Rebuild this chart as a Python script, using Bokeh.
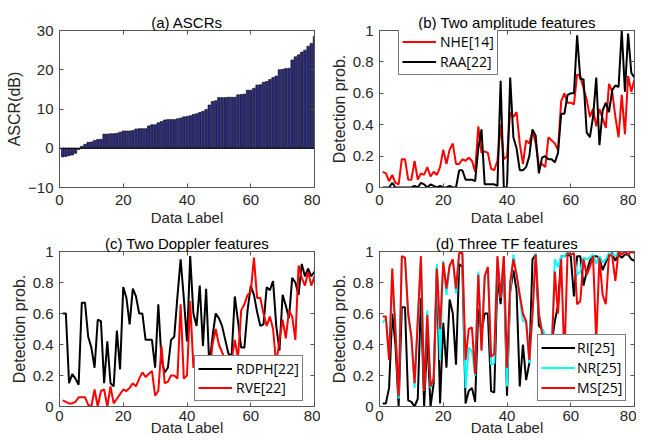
from bokeh.plotting import figure
from bokeh.layouts import column, row
from bokeh.models import LinearAxis, FixedTicker, Span, Legend, LegendItem
from bokeh.embed import file_html
from bokeh.resources import INLINE

x = list(range(1, 81))

ascr = [-2.2, -2.1, -1.9, -1.7, -1.3, -0.3, 0.5, 1.0, 1.5, 1.6,
        2.0, 2.2, 2.3, 3.6, 3.6, 3.7, 3.7, 3.8, 4.1, 4.4,
        4.4, 4.4, 4.5, 4.9, 5.0, 5.0, 5.0, 5.7, 6.0, 6.0,
        6.5, 6.8, 7.2, 7.3, 7.3, 7.3, 7.5, 7.7, 8.0, 8.1,
        8.3, 8.6, 8.8, 9.1, 9.4, 9.9, 11.0, 11.9, 12.1, 12.9,
        12.9, 12.9, 13.0, 13.0, 13.0, 13.6, 13.7, 13.8, 14.8, 14.8,
        15.3, 16.1, 16.2, 16.8, 17.0, 17.5, 18.0, 18.4, 20.0, 20.1,
        20.3, 20.4, 22.5, 23.3, 23.8, 24.5, 25.0, 26.0, 26.7, 28.5]

nhe = [0.10, 0.09, 0.04, 0.08, 0.03, 0.02, 0.18, 0.18, 0.05, 0.05,
       0.17, 0.05, 0.09, 0.08, 0.13, 0.07, 0.10, 0.08, 0.13, 0.24,
       0.15, 0.24, 0.28, 0.15, 0.15, 0.18, 0.17, 0.19, 0.17, 0.10,
       0.39, 0.22, 0.23, 0.22, 0.12, 0.11, 0.17, 0.40, 0.18, 0.20,
       0.48, 0.45, 0.48, 0.28, 0.15, 0.30, 0.28, 0.36, 0.28, 0.14,
       0.15, 0.13, 0.32, 0.30, 0.28, 0.24, 0.55, 0.60, 0.54, 0.54,
       0.53, 0.72, 0.71, 0.63, 0.56, 0.45, 0.50, 0.39, 0.50, 0.44,
       0.38, 0.66, 0.61, 0.45, 0.32, 0.59, 0.34, 0.71, 0.61, 0.69]

raa = [0.00, 0.00, 0.00, 0.03, 0.00, 0.00, 0.00, 0.00, 0.00, 0.00,
       0.01, 0.00, 0.03, 0.02, 0.00, 0.02, 0.01, 0.00, 0.01, 0.00,
       0.00, 0.01, 0.00, 0.00, 0.11, 0.11, 0.05, 0.05, 0.05, 0.04,
       0.25, 0.37, 0.02, 0.02, 0.02, 0.02, 0.01, 0.68, 0.00, 0.00,
       0.70, 0.32, 0.25, 0.11, 0.11, 0.13, 0.20, 0.37, 0.33, 0.09,
       0.19, 0.20, 0.18, 0.18, 0.16, 0.22, 0.47, 0.47, 0.59, 0.60,
       0.60, 0.97, 0.69, 0.69, 0.35, 0.32, 0.45, 0.70, 0.27, 0.49,
       0.54, 0.48, 0.62, 0.65, 0.64, 1.00, 0.61, 0.98, 0.73, 0.70]

rdph = [0.60, 0.60, 0.15, 0.21, 0.18, 0.14, 0.67, 0.67, 0.45, 0.38,
        0.25, 0.56, 0.55, 0.15, 0.42, 0.15, 0.13, 0.49, 0.24, 0.77,
        0.70, 0.53, 0.76, 0.71, 0.60, 0.60, 0.43, 0.43, 0.43, 0.25,
        0.66, 0.30, 0.22, 0.25, 0.43, 0.45, 0.71, 0.95, 0.70, 0.42,
        0.97, 0.60, 0.52, 0.78, 0.39, 0.76, 0.26, 0.45, 0.60, 0.57,
        0.52, 0.43, 0.34, 0.33, 0.71, 0.55, 0.38, 0.38, 0.62, 0.78,
        0.72, 0.61, 0.52, 0.53, 0.77, 0.75, 0.81, 0.52, 0.36, 0.72,
        0.65, 0.57, 0.83, 0.80, 0.72, 0.92, 0.84, 0.89, 0.84, 0.87]

rve = [0.04, 0.03, 0.02, 0.02, 0.03, 0.06, 0.06, 0.06, 0.01, 0.00,
       0.11, 0.00, 0.10, 0.11, 0.00, 0.13, 0.02, 0.05, 0.08, 0.11,
       0.10, 0.12, 0.15, 0.13, 0.18, 0.22, 0.19, 0.21, 0.23, 0.07,
       0.10, 0.39, 0.15, 0.16, 0.20, 0.20, 0.18, 0.66, 0.18, 0.20,
       0.68, 0.25, 0.28, 0.32, 0.25, 0.30, 0.20, 0.40, 0.50, 0.40,
       0.35, 0.30, 0.28, 0.30, 0.43, 0.31, 0.62, 0.66, 0.72, 0.74,
       0.96, 0.70, 0.70, 0.60, 0.52, 0.58, 0.50, 0.27, 0.43, 0.56,
       0.44, 0.62, 0.58, 0.43, 0.91, 0.83, 0.78, 0.87, 0.78, 0.84]

ri = [0.02, 0.02, 0.12, 0.60, 0.40, 0.00, 0.64, 0.64, 0.04, 0.03,
      0.00, 0.05, 0.70, 0.00, 0.45, 0.00, 0.15, 0.90, 0.02, 0.54,
      0.25, 0.69, 0.60, 0.27, 0.92, 0.90, 0.02, 0.10, 0.12, 0.03,
      0.63, 0.48, 0.60, 0.60, 0.10, 0.09, 0.84, 0.66, 0.92, 0.07,
      0.74, 0.88, 0.75, 0.13, 0.40, 0.17, 0.28, 0.95, 0.98, 0.52,
      0.50, 0.45, 0.38, 0.40, 0.55, 0.65, 0.97, 0.97, 0.98, 0.97,
      0.71, 0.97, 0.97, 0.78, 0.87, 0.94, 0.97, 0.97, 0.96, 0.88,
      0.93, 0.97, 0.99, 0.94, 0.98, 0.96, 0.98, 0.98, 0.95, 0.94]

nr = [0.54, 0.57, 0.32, 0.75, 0.55, 0.05, 0.96, 0.96, 0.58, 0.44,
      0.12, 0.55, 0.96, 0.10, 0.62, 0.12, 0.18, 0.92, 0.30, 0.94,
      0.72, 0.90, 0.95, 0.73, 0.99, 0.99, 0.12, 0.38, 0.36, 0.20,
      0.87, 0.37, 0.84, 0.90, 0.27, 0.28, 0.96, 0.70, 0.97, 0.13,
      0.75, 0.98, 0.85, 0.70, 0.55, 0.55, 0.28, 0.60, 0.99, 0.60,
      0.50, 0.46, 0.40, 0.36, 0.95, 0.90, 0.97, 0.97, 1.00, 0.98,
      0.99, 0.85, 0.87, 0.96, 0.95, 0.96, 0.98, 0.92, 0.97, 0.93,
      0.95, 0.99, 0.98, 0.97, 1.00, 0.99, 1.00, 0.99, 1.00, 1.00]

ms = [0.58, 0.58, 0.30, 0.89, 0.48, 0.07, 0.97, 0.96, 0.60, 0.45,
      0.15, 0.55, 0.97, 0.10, 0.59, 0.13, 0.18, 0.89, 0.50, 0.93,
      0.76, 0.91, 0.95, 0.76, 0.99, 0.99, 0.30, 0.50, 0.51, 0.21,
      0.85, 0.36, 0.84, 0.90, 0.32, 0.34, 0.97, 0.70, 0.97, 0.25,
      0.80, 0.95, 0.85, 0.72, 0.60, 0.55, 0.30, 0.60, 0.98, 0.60,
      0.47, 0.45, 0.40, 0.35, 0.87, 0.60, 0.95, 0.30, 0.99, 0.98,
      0.99, 0.66, 0.68, 0.95, 0.85, 0.90, 0.97, 0.42, 0.96, 0.72,
      0.66, 0.98, 0.97, 0.81, 1.00, 0.98, 1.00, 0.98, 1.00, 0.99]

x_ticks = [0, 20, 40, 60, 80]
ascr_ticks = [-10, 0, 10, 20, 30]
prob_ticks = [0, 0.2, 0.4, 0.6, 0.8, 1]
prob_labels = {0: "0", 1: "1"}

FONT = "Liberation Sans"
TXT = "#262626"
AX = "#555555"


def make_fig(title, ylabel, yrange, yticks, left, right, top, bottom, fh,
             xl_standoff, tl_standoff, overrides=None):
    p = figure(frame_width=255, frame_height=fh, x_range=(0, 80), y_range=yrange,
               output_backend="svg", toolbar_location=None,
               min_border_left=left, min_border_right=right,
               min_border_top=top, min_border_bottom=bottom,
               x_axis_location=None, y_axis_location=None)
    p.title.text = title
    p.title.align = "center"
    p.title.text_font = FONT
    p.title.text_font_size = "15px"
    p.title.text_font_style = "normal"
    p.title.text_color = "black"
    p.title.standoff = 0
    p.title.offset = 0
    p.xgrid.visible = False
    p.ygrid.visible = False
    p.outline_line_color = AX
    p.outline_line_width = 1
    p.background_fill_color = "white"
    p.border_fill_color = "white"

    def style(ax, ticks, show, lab=None, lab_standoff=3, tick_standoff=5, lab_size="16px"):
        ax.ticker = FixedTicker(ticks=ticks)
        ax.major_tick_in = 4
        ax.major_tick_out = 0
        ax.minor_tick_line_color = None
        ax.axis_line_color = AX
        ax.major_tick_line_color = AX
        if show:
            ax.major_label_text_font = FONT
            ax.major_label_text_font_size = "15px"
            ax.major_label_text_color = TXT
            ax.major_label_standoff = tick_standoff
            if lab:
                ax.axis_label = lab
                ax.axis_label_text_font = FONT
                ax.axis_label_text_font_size = lab_size
                ax.axis_label_text_font_style = "normal"
                ax.axis_label_text_color = TXT
                ax.axis_label_standoff = lab_standoff
        else:
            ax.major_label_text_font_size = "1px"
            ax.major_label_text_color = None
            ax.major_label_standoff = 0

    xb = LinearAxis()
    style(xb, x_ticks, True, "Data Label", xl_standoff, tl_standoff, "15px")
    p.add_layout(xb, "below")
    yl = LinearAxis()
    style(yl, yticks, True, ylabel, 2, 6, "16px")
    if overrides:
        yl.major_label_overrides = overrides
    p.add_layout(yl, "left")
    xa = LinearAxis()
    style(xa, x_ticks, False)
    p.add_layout(xa, "above")
    yr = LinearAxis()
    style(yr, yticks, False)
    p.add_layout(yr, "right")
    return p


def add_legend(p, items, loc, label_height, spacing, padding, standoff=4):
    leg = Legend(items=items, location=loc)
    leg.label_text_font = "Open Sans"
    leg.label_text_font_size = "14px"
    leg.label_text_color = "black"
    leg.glyph_width = 34
    leg.glyph_height = 15
    leg.label_height = label_height
    leg.spacing = spacing
    leg.padding = padding
    leg.margin = 0
    leg.label_standoff = standoff
    leg.border_line_color = "black"
    leg.border_line_width = 1
    leg.background_fill_color = "white"
    leg.background_fill_alpha = 1
    p.add_layout(leg, "center")


# (a)
pa = make_fig("(a) ASCRs", "ASCR(dB)", (-10, 30), ascr_ticks, 59, 6, 30, 44, 157, 1, 7)
pa.vbar(x=x, top=ascr, bottom=0, width=0.8, fill_color="#2b2b8c",
        line_color="black", line_width=0.6)
pa.add_layout(Span(location=0, dimension="width", line_color="black", line_width=1))

# (b)
pb = make_fig("(b) Two amplitude features", "Detection prob.", (0, 1), prob_ticks,
              59, 2, 30, 44, 157, 1, 7, prob_labels)
r1 = pb.line(x, nhe, line_color="red", line_width=2)
r2 = pb.line(x, raa, line_color="black", line_width=2)
add_legend(pb, [LegendItem(label="NHE[14]", renderers=[r1]),
                LegendItem(label="RAA[22]", renderers=[r2])], (19, 112), 17, 1, 3)

# (c)
pc = make_fig("(c) Two Doppler features", "Detection prob.", (0, 1), prob_ticks,
              59, 6, 20, 35, 155, -5, 4, prob_labels)
r3 = pc.line(x, rdph, line_color="black", line_width=2)
r4 = pc.line(x, rve, line_color="red", line_width=2)
add_legend(pc, [LegendItem(label="RDPH[22]", renderers=[r3]),
                LegendItem(label="RVE[22]", renderers=[r4])], (135, 5), 16, 0, 3)

# (d)
pd_ = make_fig("(d) Three TF features", "Detection prob.", (0, 1), prob_ticks,
               59, 2, 20, 35, 155, -5, 4, prob_labels)
r5 = pd_.line(x, ri, line_color="black", line_width=2)
r6 = pd_.line(x, nr, line_color="cyan", line_width=2)
r7 = pd_.line(x, ms, line_color="red", line_width=2)
add_legend(pd_, [LegendItem(label="RI[25]", renderers=[r5]),
                 LegendItem(label="NR[25]", renderers=[r6]),
                 LegendItem(label="MS[25]", renderers=[r7])], (158, 5), 17, 1, 3, 2)

layout = column(row(pa, pb, spacing=0), row(pc, pd_, spacing=0), spacing=0)

open("out.html", "w").write(file_html(layout, INLINE))
